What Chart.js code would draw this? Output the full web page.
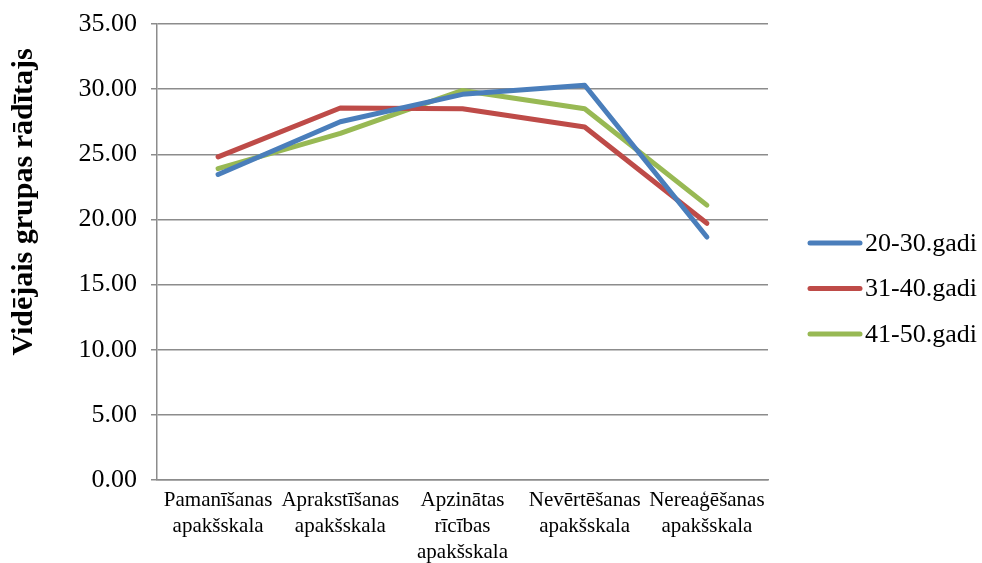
<!DOCTYPE html>
<html>
<head>
<meta charset="utf-8">
<script src="https://cdn.jsdelivr.net/npm/chart.js@4"></script>
<style>
  html, body { margin: 0; padding: 0; background: #fff; }
  #wrap { width: 982px; height: 563px; }
</style>
</head>
<body>
<div id="wrap"><canvas id="chart"></canvas></div>
<script>
const categories = [
  ['Pamanīšanas', 'apakšskala'],
  ['Aprakstīšanas', 'apakšskala'],
  ['Apzinātas', 'rīcības', 'apakšskala'],
  ['Nevērtēšanas', 'apakšskala'],
  ['Nereaģēšanas', 'apakšskala']
];
const group20to30 = [23.45, 27.5, 29.6, 30.3, 18.65];
const group31to40 = [24.8, 28.55, 28.5, 27.1, 19.7];
const group41to50 = [23.9, 26.6, 29.9, 28.5, 21.1];
const seriesNames = ['20-30.gadi', '31-40.gadi', '41-50.gadi'];
const colors = ['#4a7ebb', '#be4b48', '#98b954'];
const yTitle = 'Vidējais grupas rādītajs';

const serif = "'Liberation Serif', 'Times New Roman', serif";
const gridGray = '#8c8c8c';

const datasets = [group20to30, group31to40, group41to50].map((vals, i) => ({
  label: seriesNames[i],
  data: vals,
  borderColor: colors[i],
  backgroundColor: colors[i],
  borderWidth: 5,
  pointRadius: 0,
  tension: 0,
  borderCapStyle: 'round',
  borderJoinStyle: 'round'
}));

// Excel-like legend on the right and an axis title placed a bit above center
const extras = {
  id: 'extras',
  afterDraw(chart) {
    const ctx = chart.ctx;
    ctx.save();
    ctx.font = '26px ' + serif;
    ctx.textBaseline = 'middle';
    ctx.fillStyle = '#000';
    chart.data.datasets.forEach((ds, i) => {
      const y = 243 + i * 45.5;
      ctx.strokeStyle = ds.borderColor;
      ctx.lineWidth = 5;
      ctx.lineCap = 'round';
      ctx.beginPath();
      ctx.moveTo(810, y);
      ctx.lineTo(860, y);
      ctx.stroke();
      ctx.fillText(ds.label, 865, y + 1);
    });
    ctx.translate(24, 202);
    ctx.rotate(-Math.PI / 2);
    ctx.font = 'bold 30px ' + serif;
    ctx.textAlign = 'center';
    ctx.fillText(yTitle, 0, 0);
    ctx.restore();
  }
};

new Chart(document.getElementById('chart'), {
  type: 'line',
  data: { labels: categories, datasets },
  plugins: [extras],
  options: {
    responsive: true,
    maintainAspectRatio: false,
    animation: false,
    layout: { padding: { left: 8, right: 214, top: 24, bottom: 0 } },
    plugins: {
      tooltip: { enabled: false },
      legend: { display: false }
    },
    scales: {
      x: {
        offset: true,
        afterFit: s => { s.height = 83; },
        grid: { display: false, drawTicks: false },
        border: { color: gridGray, width: 1.5 },
        ticks: {
          color: '#000',
          padding: 8,
          maxRotation: 0,
          autoSkip: false,
          font: { family: serif, size: 21, lineHeight: 1.22 }
        }
      },
      y: {
        min: 0,
        max: 35,
        afterFit: s => { s.width = 149; s.paddingTop = 0; s.paddingBottom = 0; },
        ticks: {
          stepSize: 5,
          color: '#000',
          padding: 14,
          font: { family: serif, size: 26 },
          callback: v => v.toFixed(2)
        },
        grid: { color: gridGray, lineWidth: 1.5, tickLength: 6 },
        border: { color: gridGray, width: 1.5 }
      }
    }
  }
});
</script>
</body>
</html>
